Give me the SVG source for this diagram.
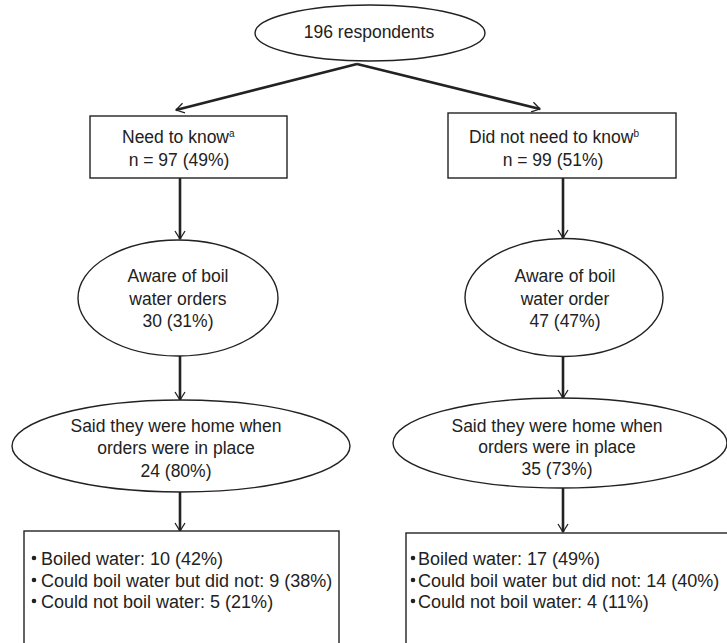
<svg xmlns="http://www.w3.org/2000/svg" width="727" height="643" viewBox="0 0 727 643">
<style>
  .shape { fill: #fff; stroke: #222; stroke-width: 1.4; }
  .t { font-family: "Liberation Sans", Arial, sans-serif; font-size: 17.5px; fill: #222; }
  .c { text-anchor: middle; }
  .l { font-size: 18px; }
  .sup { font-size: 10px; }
  .edge { stroke: #222; stroke-width: 2.6; fill: none; }
</style>
<defs>
  <marker id="arr" markerUnits="userSpaceOnUse" markerWidth="20" markerHeight="20" refX="0" refY="0" orient="auto" overflow="visible" viewBox="-10 -10 20 20">
    <path d="M -8,-5 L 0,0 L -8,5" fill="none" stroke="#222" stroke-width="1.3"/>
  </marker>
</defs>
<rect width="727" height="643" fill="#fff"/>

<g id="connectors">
  <line class="edge" x1="357" y1="64" x2="176" y2="110" marker-end="url(#arr)"/>
  <line class="edge" x1="357" y1="64" x2="540" y2="109" marker-end="url(#arr)"/>
  <line class="edge" x1="180" y1="178" x2="180" y2="239" marker-end="url(#arr)"/>
  <line class="edge" x1="563" y1="178" x2="563" y2="238" marker-end="url(#arr)"/>
  <line class="edge" x1="180" y1="356" x2="180" y2="400" marker-end="url(#arr)"/>
  <line class="edge" x1="563" y1="357" x2="563" y2="398" marker-end="url(#arr)"/>
  <line class="edge" x1="180" y1="492" x2="180" y2="531" marker-end="url(#arr)"/>
  <line class="edge" x1="563" y1="488" x2="563" y2="532" marker-end="url(#arr)"/>
</g>

<g id="root">
  <ellipse class="shape" cx="370" cy="33" rx="115" ry="28"/>
  <text class="t c" x="369" y="38">196 respondents</text>
</g>

<g id="need">
  <rect class="shape" x="90" y="116" width="197" height="62"/>
  <text class="t" x="122" y="143">Need to know<tspan class="sup" dy="-6">a</tspan></text>
  <text class="t c" x="179" y="166">n = 97 (49%)</text>
</g>

<g id="notneed">
  <rect class="shape" x="448" y="113" width="228" height="65"/>
  <text class="t" x="469" y="143">Did not need to know<tspan class="sup" dy="-6">b</tspan></text>
  <text class="t c" x="553" y="166">n = 99 (51%)</text>
</g>

<g id="aware-left">
  <ellipse class="shape" cx="178" cy="298" rx="100" ry="58"/>
  <text class="t c" x="178" y="282">Aware of boil</text>
  <text class="t c" x="178" y="305">water orders</text>
  <text class="t c" x="178" y="327">30 (31%)</text>
</g>

<g id="aware-right">
  <ellipse class="shape" cx="564" cy="297.5" rx="99" ry="59"/>
  <text class="t c" x="565" y="282">Aware of boil</text>
  <text class="t c" x="565" y="305">water order</text>
  <text class="t c" x="565" y="327">47 (47%)</text>
</g>

<g id="home-left">
  <ellipse class="shape" cx="181" cy="446" rx="169" ry="46"/>
  <text class="t c" x="176" y="432">Said they were home when</text>
  <text class="t c" x="176" y="454">orders were in place</text>
  <text class="t c" x="176" y="477">24 (80%)</text>
</g>

<g id="home-right">
  <ellipse class="shape" cx="560" cy="443" rx="167" ry="45"/>
  <text class="t c" x="557" y="432">Said they were home when</text>
  <text class="t c" x="557" y="453">orders were in place</text>
  <text class="t c" x="557" y="475">35 (73%)</text>
</g>

<g id="outcome-left">
  <rect class="shape" x="24" y="531" width="315" height="130"/>
  <circle cx="34" cy="558" r="2.3" fill="#222"/>
  <circle cx="34" cy="580" r="2.3" fill="#222"/>
  <circle cx="34" cy="601" r="2.3" fill="#222"/>
  <text class="t l" x="41" y="565">Boiled water: 10 (42%)</text>
  <text class="t l" x="41" y="587">Could boil water but did not: 9 (38%)</text>
  <text class="t l" x="41" y="608">Could not boil water: 5 (21%)</text>
</g>

<g id="outcome-right">
  <rect class="shape" x="406" y="533" width="340" height="130"/>
  <circle cx="413" cy="558" r="2.3" fill="#222"/>
  <circle cx="413" cy="580" r="2.3" fill="#222"/>
  <circle cx="413" cy="601" r="2.3" fill="#222"/>
  <text class="t l" x="418" y="565">Boiled water: 17 (49%)</text>
  <text class="t l" x="418" y="587">Could boil water but did not: 14 (40%)</text>
  <text class="t l" x="418" y="608">Could not boil water: 4 (11%)</text>
</g>
</svg>
